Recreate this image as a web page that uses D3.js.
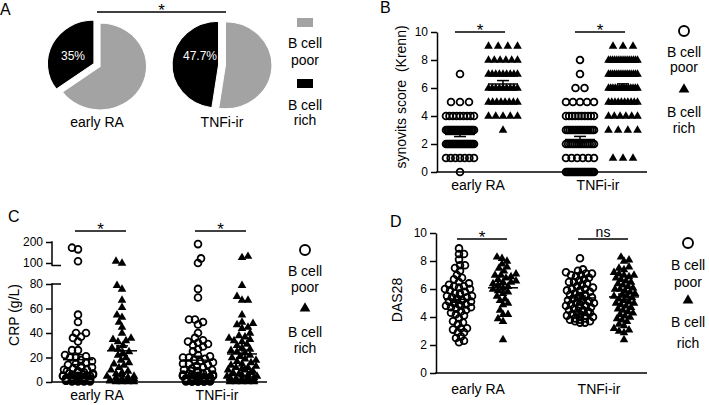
<!DOCTYPE html>
<html>
<head>
<meta charset="utf-8">
<script src="https://cdn.jsdelivr.net/npm/d3@7"></script>
<style>
  body { margin: 0; background: #fff; }
  svg { display: block; font-family: "Liberation Sans", Arial, sans-serif; }
</style>
</head>
<body>
<svg id="fig" width="709" height="405"></svg>
<script>
// ---- data ----
const groups = ['early RA', 'TNFi-ir']
const pieRichPct = [35, 47.7]
const pieLabels = ['35%', '47.7%']
const legendPoor = ['B cell', 'poor']
const legendRich = ['B cell', 'rich']

// B: synovitis score, number of patients at each score
const synScores = [0, 1, 2, 3, 4, 5, 6, 7, 8, 9, 10]
const synEarlyPoor = [1, 7, 22, 20, 9, 3, 0, 1, 0, 0, 0]
const synEarlyRich = [0, 0, 0, 1, 5, 8, 9, 9, 6, 4, 0]
const synTnfPoor = [20, 6, 14, 16, 10, 5, 2, 1, 1, 0, 0]
const synTnfRich = [0, 3, 0, 4, 6, 10, 14, 15, 15, 3, 0]
const synTicks = [0, 2, 4, 6, 8, 10]
const sigB = ['*', '*']

// C: CRP (g/L)
const crpEarlyPoor = [173, 165, 108, 55, 49, 40, 40, 37, 36, 33, 26, 26, 22, 21, 20, 20, 18, 17, 16, 15,
  14, 13, 12, 12, 11, 10, 10, 9, 9, 8, 8, 7, 7, 6, 6, 6, 5, 5, 5, 5, 4, 4, 4, 3, 3, 3, 3, 3,
  2, 2, 2, 2, 2, 1.5, 1, 1, 1, 1, 1, 0.5, 0.5, 0.5, 0.5]
const crpEarlyRich = [110, 100, 79, 76, 67, 61, 55, 53, 49, 45, 40, 36, 35, 34, 33, 30, 28, 27, 25, 24,
  22, 20, 18, 16, 15, 14, 12, 10, 9, 8, 7, 6, 5, 5, 4, 4, 3, 3, 2, 2, 1, 1, 1, 0.5, 0.5, 0.5, 0.5]
const crpTnfPoor = [190, 122, 100, 76, 69, 51, 51, 49, 47, 40, 36, 34, 33, 32, 31, 30, 29, 27, 25, 22,
  21, 20, 20, 19, 18, 17, 16, 15, 15, 14, 13, 12, 11, 10, 10, 9, 9, 8, 8, 8, 7, 7, 6, 6, 6,
  5, 5, 5, 5, 4, 4, 4, 4, 3, 3, 3, 3, 3, 2, 2, 2, 2, 2, 2, 2, 2, 1, 1, 1, 1, 1, 1, 1, 1, 1,
  0.5, 0.5, 0.5, 0.5, 0.5, 0.5, 0.5, 0.5]
const crpTnfRich = [133, 127, 79, 70, 67, 67, 55, 49, 48, 47, 45, 44, 40, 38, 37, 36, 35, 34, 33, 31,
  30, 28, 27, 26, 25, 24, 22, 21, 20, 19, 18, 17, 16, 15, 14, 13, 12, 12, 11, 10, 10, 9, 8, 8,
  7, 7, 6, 6, 5, 5, 4, 4, 4, 3, 3, 3, 2, 2, 2, 2, 1, 1, 1, 1, 1, 0.5, 0.5, 0.5, 0.5, 0.5]
const crpTicks = [0, 20, 40, 60, 80, 100, 200]
const sigC = ['*', '*']

// D: DAS28
const dasEarlyPoor = [8.9, 8.5, 8.5, 8.1, 7.7, 7.7, 7.5, 7.3, 7.0, 6.8, 6.7, 6.5, 6.4, 6.3, 6.2, 6.2,
  6.1, 6.0, 6.0, 5.9, 5.8, 5.7, 5.7, 5.6, 5.5, 5.5, 5.4, 5.4, 5.3, 5.3, 5.2, 5.2, 5.1, 5.1, 5.0,
  5.0, 4.9, 4.9, 4.8, 4.8, 4.7, 4.7, 4.6, 4.5, 4.4, 4.3, 4.2, 4.1, 3.9, 3.7, 3.6, 3.5, 3.2, 3.2,
  3.1, 2.9, 2.9, 2.6, 2.5, 2.3, 2.2]
const dasEarlyRich = [8.3, 8.2, 8.0, 7.8, 7.6, 7.5, 7.3, 7.1, 7.0, 7.0, 6.9, 6.8, 6.7, 6.6, 6.5, 6.5,
  6.4, 6.3, 6.2, 6.1, 6.0, 5.9, 5.8, 5.7, 5.5, 5.3, 5.2, 5.0, 4.9, 4.5, 4.2, 4.2, 3.9, 3.7, 2.4]
const dasTnfPoor = [8.2, 7.4, 7.3, 7.2, 7.1, 7.1, 7.0, 7.0, 6.9, 6.8, 6.7, 6.6, 6.5, 6.5, 6.4, 6.3,
  6.2, 6.2, 6.1, 6.0, 6.0, 5.9, 5.9, 5.8, 5.8, 5.7, 5.6, 5.6, 5.5, 5.5, 5.4, 5.4, 5.3, 5.3, 5.2,
  5.2, 5.1, 5.1, 5.0, 5.0, 4.9, 4.9, 4.8, 4.8, 4.7, 4.7, 4.6, 4.5, 4.5, 4.4, 4.4, 4.3, 4.3, 4.2,
  4.2, 4.1, 4.1, 4.0, 4.0, 3.9, 3.9, 3.8, 3.8, 3.7, 3.7, 3.6, 3.6]
const dasTnfRich = [8.3, 8.1, 8.0, 7.6, 7.5, 7.4, 7.2, 7.1, 7.0, 7.0, 6.9, 6.8, 6.7, 6.6, 6.5, 6.4,
  6.3, 6.2, 6.1, 6.0, 6.0, 5.9, 5.8, 5.7, 5.6, 5.5, 5.5, 5.4, 5.3, 5.2, 5.1, 5.0, 5.0, 4.9, 4.8,
  4.7, 4.6, 4.5, 4.4, 4.3, 4.2, 4.1, 4.0, 3.9, 3.8, 3.7, 3.5, 3.4, 3.2, 3.1, 3.0, 2.9, 2.4]
const dasTicks = [0, 2, 4, 6, 8, 10]
const sigD = ['*', 'ns']

// ---- drawing ----
const svg = d3.select('#fig')
const GRAY = '#a3a3a3'

function text(x, y, s, size, anchor) {
  return svg.append('text').attr('x', x).attr('y', y)
    .attr('font-size', size).attr('text-anchor', anchor || 'middle')
    .attr('fill', '#000').text(s)
}

function marker(g, kind, x, y, big) {
  if (kind === 'poor') {
    g.append('circle').attr('cx', x).attr('cy', y).attr('r', big ? 5 : 3.4)
      .attr('fill', 'none').attr('stroke', '#000').attr('stroke-width', big ? 1.9 : 1.8)
  } else {
    g.append('path').attr('d', d3.symbol(d3.symbolTriangle, big ? 50 : 32)())
      .attr('transform', `translate(${x},${y + (big ? 0.5 : 0.3)})`).attr('fill', '#000')
  }
}

function legend(cx, ys) {
  // ys: circle, poor line1, poor line2, triangle, rich line1, rich line2
  marker(svg, 'poor', cx, ys[0], true)
  text(cx, ys[1], legendPoor[0], 14)
  text(cx, ys[2], legendPoor[1], 14)
  marker(svg, 'rich', cx, ys[3], true)
  text(cx, ys[4], legendRich[0], 14)
  text(cx, ys[5], legendRich[1], 14)
}

function sigBar(x0, x1, y, s) {
  svg.append('line').attr('x1', x0).attr('x2', x1).attr('y1', y).attr('y2', y)
    .attr('stroke', '#000').attr('stroke-width', 1.5)
  if (s === '*') text((x0 + x1) / 2, y + 3.5, s, 17)
  else text((x0 + x1) / 2, y - 2, s, 14)
}

// rows of points at discrete scores (panel B)
function rowPoints(counts, maxStep, maxW) {
  const pts = []
  counts.forEach((n, i) => {
    const step = n > 1 ? Math.min(maxStep, maxW / (n - 1)) : 0
    for (let k = 0; k < n; k++) pts.push({ v: synScores[i], dx: (k - (n - 1) / 2) * step })
  })
  return pts
}

// simple bee swarm for continuous values (panels C, D)
function swarm(vals, y, minD, halfW) {
  const placed = []
  vals.slice().sort((a, b) => a - b).forEach((v, i) => {
    const py = y(v)
    let best = 0, bestC = Infinity
    const sgn = i % 2 ? 1 : -1
    for (let k = 0; k <= halfW * 2; k++) {
      const off = k === 0 ? 0 : sgn * (k % 2 ? (k + 1) / 2 : -k / 2)
      let c = 0
      placed.forEach(p => {
        const dx = p.dx - off, dy = p.py - py
        if (dx * dx + dy * dy < minD * minD) c++
      })
      if (c < bestC) { bestC = c; best = off }
      if (c === 0) break
    }
    placed.push({ v: v, dx: best, py: py })
  })
  return placed
}

function meanSem(g, vals, cx, y) {
  const m = d3.mean(vals)
  const sem = d3.deviation(vals) / Math.sqrt(vals.length)
  const ln = (x1, x2, y1, y2) => g.append('line').attr('x1', x1).attr('x2', x2)
    .attr('y1', y1).attr('y2', y2).attr('stroke', '#000').attr('stroke-width', 1.5)
  ln(cx - 15, cx + 15, y(m), y(m))
  ln(cx, cx, y(m - sem), y(m + sem))
  ln(cx - 6, cx + 6, y(m - sem), y(m - sem))
  ln(cx - 6, cx + 6, y(m + sem), y(m + sem))
}

function yAxis(x, y, ticks) {
  const g = svg.append('g').attr('transform', `translate(${x},0)`)
    .call(d3.axisLeft(y).tickValues(ticks).tickSize(6).tickSizeOuter(0).tickPadding(3))
  g.selectAll('text').attr('font-size', 12).attr('fill', '#000')
    .attr('font-family', '"Liberation Sans", Arial, sans-serif')
  g.selectAll('line').attr('stroke', '#000').attr('stroke-width', 1.5)
  g.select('.domain').attr('stroke', '#000').attr('stroke-width', 1.5)
  return g
}

function xLine(x0, x1, y) {
  svg.append('line').attr('x1', x0 - 0.75).attr('x2', x1).attr('y1', y).attr('y2', y)
    .attr('stroke', '#000').attr('stroke-width', 1.5)
}

function axisTitle(x, y, s) {
  svg.append('text').attr('transform', `translate(${x},${y}) rotate(-90)`)
    .attr('font-size', 14).attr('text-anchor', 'middle').style('white-space', 'pre').text(s)
}

// panel letters
text(0, 15, 'A', 16, 'start')
text(380, 13, 'B', 16, 'start')
text(8, 222, 'C', 16, 'start')
text(390, 227, 'D', 16, 'start')

// ---- A: pies ----
const pieCx = [97, 222]
const arc = d3.arc().innerRadius(0).outerRadius(43.5)
const pie = d3.pie().sort(null).value(d => d)
pieRichPct.forEach((p, i) => {
  const g = svg.append('g').attr('transform', `translate(${pieCx[i]},65) scale(1.07,1)`)
  pie([100 - p, p]).forEach((a, j) => {
    const mid = (a.startAngle + a.endAngle) / 2
    const off = 3.2
    g.append('path').attr('d', arc(a))
      .attr('transform', `translate(${off * Math.sin(mid)},${-off * Math.cos(mid)})`)
      .attr('fill', j === 0 ? GRAY : '#000').attr('stroke', '#fff').attr('stroke-width', 1)
  })
  svg.append('text').attr('x', pieCx[i] - (i === 0 ? 24 : 22)).attr('y', 60)
    .attr('font-size', 12).attr('text-anchor', 'middle').attr('fill', '#fff').text(pieLabels[i])
  text(pieCx[i], 127, groups[i], 14)
})
sigBar(97, 226, 12, '*')
svg.append('rect').attr('x', 297).attr('y', 18).attr('width', 16).attr('height', 9).attr('fill', GRAY)
svg.append('rect').attr('x', 297).attr('y', 79).attr('width', 16).attr('height', 9).attr('fill', '#000')
text(305, 48, legendPoor[0], 14)
text(305, 65, legendPoor[1], 14)
text(305, 110, legendRich[0], 14)
text(305, 125, legendRich[1], 14)

// ---- B: synovitis ----
{
  const y = d3.scaleLinear().domain([0, 10]).range([172, 32])
  const centers = [481, 601]
  const g = svg.append('g')
  const sets = [[synEarlyPoor, synEarlyRich], [synTnfPoor, synTnfRich]]
  sets.forEach((pair, gi) => {
    pair.forEach((counts, k) => {
      const cx = centers[gi] + (k === 0 ? -21 : 22)
      const kind = k === 0 ? 'poor' : 'rich'
      const pts = rowPoints(counts, k === 0 ? 9 : 10, k === 0 ? 28 : 29)
      pts.forEach(p => marker(g, kind, cx + p.dx, y(p.v)))
      meanSem(g, pts.map(p => p.v), cx, y)
    })
    sigBar(centers[gi] - 26, centers[gi] + 24, 32, sigB[gi])
    text(centers[gi] - 3, 190, groups[gi], 14)
  })
  yAxis(437, y, synTicks)
  xLine(437, 647, 172)
  axisTitle(406, 97, 'synovits score  (Krenn)')
  legend(684, [31, 57, 72, 89, 117, 133])
}

// ---- C: CRP (broken axis) ----
{
  const y = d3.scaleLinear().domain([0, 80, 100, 200]).range([382, 284, 263, 242])
  const centers = [100, 220]
  const g = svg.append('g')
  const sets = [[crpEarlyPoor, crpEarlyRich], [crpTnfPoor, crpTnfRich]]
  sets.forEach((pair, gi) => {
    pair.forEach((vals, k) => {
      const cx = centers[gi] + (k === 0 ? -22 : 22)
      const kind = k === 0 ? 'poor' : 'rich'
      swarm(vals, y, 5.5, 15).forEach(p => marker(g, kind, cx + p.dx, p.py))
      meanSem(g, vals, cx, y)
    })
    sigBar(centers[gi] - 25, centers[gi] + 26, 231, sigC[gi])
    text(centers[gi] - 3, 400, groups[gi], 14)
  })
  const ax = yAxis(52, y, crpTicks)
  ax.select('.domain').remove()
  const seg = (y1, y2) => svg.append('line').attr('x1', 52).attr('x2', 52).attr('y1', y1).attr('y2', y2)
    .attr('stroke', '#000').attr('stroke-width', 1.5)
  seg(y(0), y(80) - 0.75)
  seg(y(200) - 0.75, y(100) + 3)
  // break marks
  svg.append('line').attr('x1', 52).attr('x2', 61).attr('y1', y(80)).attr('y2', y(80))
    .attr('stroke', '#000').attr('stroke-width', 1.5)
  svg.append('line').attr('x1', 52).attr('x2', 61).attr('y1', y(100) + 2.5).attr('y2', y(100) + 2.5)
    .attr('stroke', '#000').attr('stroke-width', 1.5)
  xLine(52, 267, 382)
  axisTitle(19, 315, 'CRP (g/L)')
  legend(305, [250, 276, 292, 308, 337, 353])
}

// ---- D: DAS28 ----
{
  const y = d3.scaleLinear().domain([0, 10]).range([373, 233])
  const centers = [481, 602]
  const g = svg.append('g')
  const sets = [[dasEarlyPoor, dasEarlyRich], [dasTnfPoor, dasTnfRich]]
  sets.forEach((pair, gi) => {
    pair.forEach((vals, k) => {
      const cx = centers[gi] + (k === 0 ? -22 : 22)
      const kind = k === 0 ? 'poor' : 'rich'
      swarm(vals, y, 5, 14).forEach(p => marker(g, kind, cx + p.dx, p.py))
      meanSem(g, vals, cx, y)
    })
    sigBar(centers[gi] - 24, centers[gi] + 26, 239, sigD[gi])
    text(centers[gi] - 3, 394, groups[gi], 14)
  })
  yAxis(436, y, dasTicks)
  xLine(436, 647, 373)
  axisTitle(402, 300, 'DAS28')
  legend(688, [243, 270, 287, 300, 327, 348])
}
</script>
</body>
</html>
